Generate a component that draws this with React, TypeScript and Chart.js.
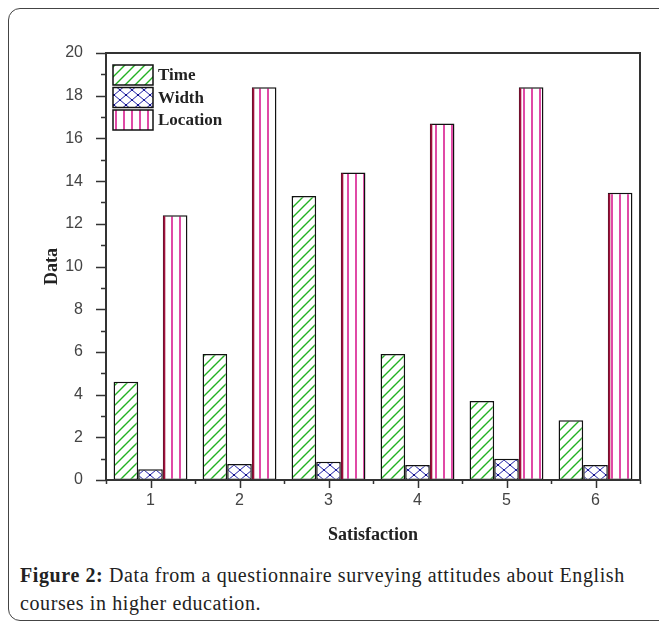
import React, { useEffect, useRef } from 'react';
import { Chart, registerables } from 'chart.js';

Chart.register(...registerables);

const categories = ['1', '2', '3', '4', '5', '6'];
const seriesLabels = ['Time', 'Width', 'Location'];
const timeValues = [4.6, 5.9, 13.3, 5.9, 3.7, 2.8];
const widthValues = [0.5, 0.75, 0.85, 0.7, 1.0, 0.7];
const locationValues = [12.4, 18.4, 14.4, 16.7, 18.4, 13.45];
const yMin = 0;
const yMax = 20;
const yStep = 2;
const xTitle = 'Satisfaction';
const yTitle = 'Data';

function makePattern(w: number, h: number, draw: (c: CanvasRenderingContext2D) => void) {
  const cv = document.createElement('canvas');
  cv.width = w;
  cv.height = h;
  const c = cv.getContext('2d')!;
  c.fillStyle = '#ffffff';
  c.fillRect(0, 0, w, h);
  draw(c);
  return c.createPattern(cv, 'repeat')!;
}

export default function App() {
  const ref = useRef<HTMLCanvasElement | null>(null);

  useEffect(() => {
    if (!ref.current) return;

    const timePattern = makePattern(10, 10, (c) => {
      c.strokeStyle = '#22b022';
      c.lineWidth = 1.4;
      c.beginPath();
      c.moveTo(-2, 12);
      c.lineTo(12, -2);
      c.moveTo(-2, 2);
      c.lineTo(2, -2);
      c.moveTo(8, 12);
      c.lineTo(12, 8);
      c.stroke();
    });
    const widthPattern = makePattern(12, 10, (c) => {
      c.strokeStyle = '#2020a8';
      c.lineWidth = 1;
      c.beginPath();
      c.moveTo(0, 0);
      c.lineTo(12, 10);
      c.moveTo(12, 0);
      c.lineTo(0, 10);
      c.stroke();
      c.fillStyle = '#10108a';
      c.fillRect(5, 4, 2, 2);
      c.fillRect(0, 0, 1, 1);
      c.fillRect(11, 9, 1, 1);
    });
    const locationPattern = makePattern(8, 1, (c) => {
      c.fillStyle = '#e04aa6';
      c.fillRect(3, 0, 2, 1);
    });
    const patterns = [timePattern, widthPattern, locationPattern];

    const axesPlugin = {
      id: 'axesBox',
      afterDatasetsDraw(chart: any) {
        const { ctx, chartArea, scales } = chart;
        const { left, right, top, bottom } = chartArea;
        const x = scales.x;
        const y = scales.y;
        ctx.save();
        const meta = chart.getDatasetMeta(2);
        ctx.strokeStyle = '#a0103c';
        ctx.lineWidth = 2;
        meta.data.forEach((bar: any) => {
          const bx = bar.x - bar.width / 2 + 1.5;
          ctx.beginPath();
          ctx.moveTo(bx, bar.y + 1);
          ctx.lineTo(bx, bar.base);
          ctx.stroke();
        });
        ctx.strokeStyle = '#333333';
        ctx.lineWidth = 2;
        ctx.strokeRect(left, top, right - left, bottom - top);
        ctx.lineWidth = 1.5;
        ctx.beginPath();
        for (let v = yMin; v <= yMax; v += 1) {
          const py = Math.round(y.getPixelForValue(v)) + 0.5;
          const len = v % yStep === 0 ? 10 : 5;
          ctx.moveTo(left - len, py);
          ctx.lineTo(left, py);
        }
        for (let i = 0; i < categories.length; i++) {
          const px = Math.round(x.getPixelForValue(i)) + 0.5;
          ctx.moveTo(px, bottom);
          ctx.lineTo(px, bottom + 8);
        }
        for (let i = 0; i <= categories.length; i++) {
          const px = Math.round(x.getPixelForValue(i - 0.5)) + 0.5;
          ctx.moveTo(px, bottom);
          ctx.lineTo(px, bottom + 4);
        }
        ctx.stroke();
        ctx.restore();
      },
      afterDraw(chart: any) {
        const { ctx, chartArea } = chart;
        ctx.save();
        const bx = chartArea.left + 7;
        let by = chartArea.top + 12;
        chart.data.datasets.forEach((ds: any) => {
          ctx.fillStyle = ds.backgroundColor;
          ctx.fillRect(bx, by, 40, 20);
          ctx.strokeStyle = '#111';
          ctx.lineWidth = 1.5;
          ctx.strokeRect(bx, by, 40, 20);
          ctx.fillStyle = '#222';
          ctx.font = 'bold 17px "Liberation Serif"';
          ctx.textBaseline = 'middle';
          ctx.textAlign = 'left';
          ctx.fillText(ds.label, bx + 45, by + 11);
          by += 22.5;
        });
        ctx.restore();
      },
    };

    const seriesValues = [timeValues, widthValues, locationValues];
    const chart = new Chart(ref.current, {
      type: 'bar',
      data: {
        labels: categories,
        datasets: seriesLabels.map((label, i) => ({
          label,
          data: seriesValues[i],
          backgroundColor: patterns[i] as any,
          borderColor: '#111111',
          borderWidth: 1.5,
          borderSkipped: false,
          categoryPercentage: 0.83,
          barPercentage: 1,
        })),
      },
      options: {
        responsive: false,
        animation: false,
        layout: { padding: { top: 53, right: 19, left: 0, bottom: 0 } },
        plugins: {
          legend: { display: false },
          tooltip: { enabled: false },
        },
        scales: {
          x: {
            grid: { display: false, drawTicks: false },
            border: { display: false },
            ticks: {
              font: { family: 'Liberation Sans', size: 16 },
              color: '#444444',
              padding: 11,
            },
            title: {
              display: true,
              text: xTitle,
              font: { family: 'Liberation Serif', size: 18, weight: 'bold' },
              color: '#222222',
              padding: { top: 0, bottom: 14 },
            },
            afterFit(s: any) {
              s.height = 80;
            },
          },
          y: {
            min: yMin,
            max: yMax,
            grid: { display: false, drawTicks: false },
            border: { display: false },
            ticks: {
              stepSize: yStep,
              font: { family: 'Liberation Sans', size: 16 },
              color: '#444444',
              padding: 23,
            },
            title: {
              display: true,
              text: yTitle,
              font: { family: 'Liberation Serif', size: 18, weight: 'bold' },
              color: '#222222',
              padding: { top: 42, bottom: 0 },
            },
            afterFit(s: any) {
              s.width = 106;
            },
          },
        },
      },
      plugins: [axesPlugin],
    });
    return () => chart.destroy();
  }, []);

  return (
    <div style={{ position: 'fixed', left: 0, top: 0, width: 659, height: 621, overflow: 'hidden', background: '#fff' }}>
      <div
        style={{
          position: 'absolute',
          left: 8,
          top: 8,
          width: 700,
          height: 613,
          border: '1px solid #444',
          borderRadius: 12,
          boxSizing: 'border-box',
        }}
      />
      <canvas ref={ref} width={659} height={560} style={{ position: 'absolute', left: 0, top: 0, display: 'block' }} />
      <div
        style={{
          position: 'absolute',
          left: 20,
          top: 561,
          width: 639,
          whiteSpace: 'nowrap',
          fontFamily: '"Liberation Serif", serif',
          fontSize: 20,
          letterSpacing: 0.6,
          lineHeight: '28px',
          color: '#222',
        }}
      >
        <b>Figure 2:</b> Data from a questionnaire surveying attitudes about English
        <br />
        courses in higher education.
      </div>
    </div>
  );
}
